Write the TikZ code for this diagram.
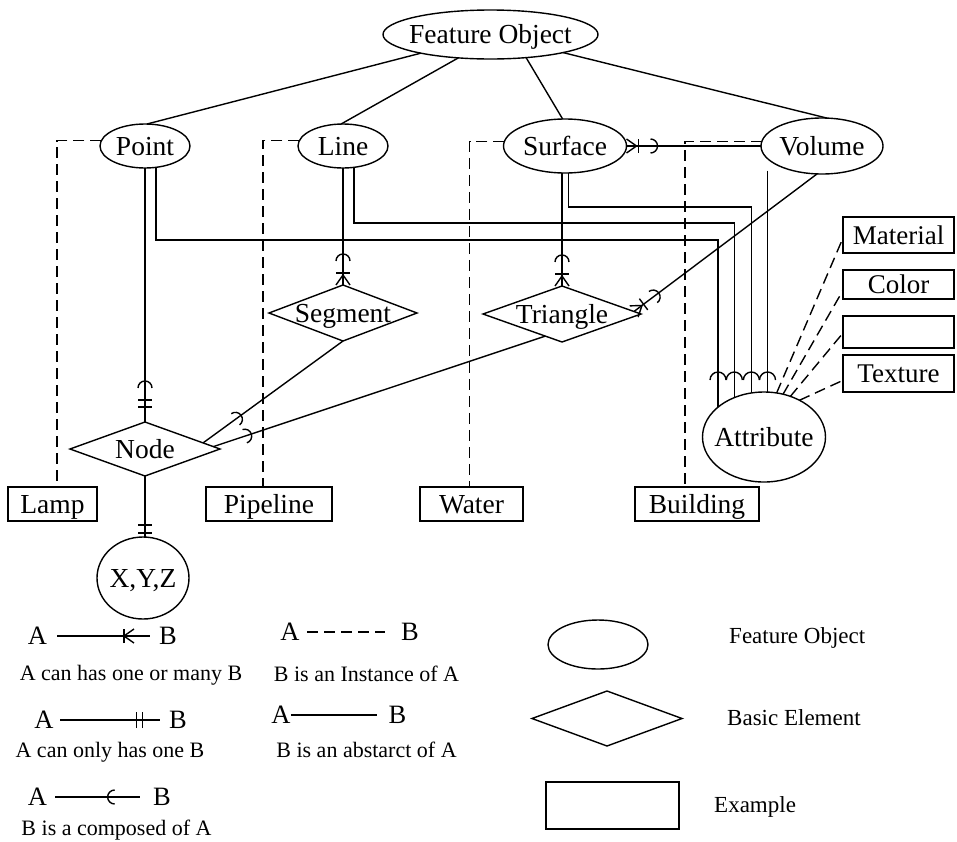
\documentclass[tikz,border=0pt]{standalone}
\usepackage{fontspec}
\setmainfont{Liberation Serif}
\usetikzlibrary{shapes.geometric,decorations.markings}

\newcommand{\mainsize}{\fontsize{27.5}{33}\selectfont}
\newcommand{\lettersize}{\fontsize{26.5}{31}\selectfont}
\newcommand{\notesize}{\fontsize{22}{26}\selectfont}
\newcommand{\keysize}{\fontsize{23}{27}\selectfont}

\tikzset{
  lw/.style={line width=1.4pt},
  conn/.style={lw},
  inst/.style={lw, dash pattern=on 11pt off 6pt},
  shp/.style={draw, lw, inner sep=0pt, outer sep=0pt},
  ent/.style={shp, ellipse},
  elem/.style={shp, diamond},
  box/.style={shp, rectangle, text height=18pt, text depth=0pt},
  every label/.style={inner sep=0pt, text height=18pt, text depth=0pt},
  letter/.style={font=\lettersize, inner ysep=0pt, text height=17.5pt, text depth=0pt},
  note/.style={font=\notesize, inner sep=0pt, text height=14.5pt, text depth=0pt},
  keytxt/.style={font=\keysize, inner sep=0pt, text height=15pt, text depth=0pt, anchor=west},
  % composed-of arc only
  comp/.style={conn, postaction={decorate}, decoration={markings,
      mark=at position -0.01pt with {\draw[lw] (-#1,7pt) arc[start angle=90, end angle=270, radius=7pt];}}},
  % composed of, one or many
  compmany/.style={conn, postaction={decorate}, decoration={markings,
      mark=at position -0.01pt with {
        \draw[lw] (0pt,7pt) -- (-10pt,0pt) -- (0pt,-7pt);
        \draw[lw] (-12pt,-7pt) -- (-12pt,7pt);
        \draw[lw] (-24pt,7pt) arc[start angle=90, end angle=270, radius=7pt];}}},
  % composed of, only one
  compone/.style={conn, postaction={decorate}, decoration={markings,
      mark=at position -0.01pt with {
        \draw[lw] (-15pt,-7pt) -- (-15pt,7pt) (-22pt,-7pt) -- (-22pt,7pt);
        \draw[lw] (-34pt,7pt) arc[start angle=90, end angle=270, radius=7pt];}}},
  % only one
  one/.style={conn, postaction={decorate}, decoration={markings,
      mark=at position -0.01pt with {
        \draw[lw] (-4pt,-7pt) -- (-4pt,7pt) (-12pt,-7pt) -- (-12pt,7pt);}}},
  % key symbols
  keymany/.style={conn, postaction={decorate}, decoration={markings,
      mark=at position -0.01pt with {
        \draw[lw] (-26pt,-7pt) -- (-26pt,7pt);
        \draw[lw] (-16pt,7pt) -- (-26pt,0pt) -- (-16pt,-7pt);}}},
  keyone/.style={conn, postaction={decorate}, decoration={markings,
      mark=at position -0.01pt with {
        \draw[lw] (-23pt,-8pt) -- (-23pt,8pt) (-17pt,-8pt) -- (-17pt,8pt);}}},
  keycomp/.style={conn, postaction={decorate}, decoration={markings,
      mark=at position -0.01pt with {\draw[lw] (-25pt,7pt) arc[start angle=90, end angle=270, radius=7pt];}}},
}

\begin{document}
\begin{tikzpicture}[x=1pt, y=-1pt, font=\mainsize]
\useasboundingbox (0,0) rectangle (957,841);

% feature objects and basic elements
\node[ent, minimum width=215pt, minimum height=49pt, label=center:Feature Object] (fo) at (490.5,34.5) {};
\node[ent, minimum width=90pt, minimum height=44pt, label=center:Point] (pt) at (145,146) {};
\node[ent, minimum width=90pt, minimum height=44pt, label=center:Line] (ln) at (343,146) {};
\node[ent, minimum width=123pt, minimum height=54pt, label=center:Surface] (sf) at (565,146) {};
\node[ent, minimum width=122pt, minimum height=56pt, label=center:Volume] (vol) at (822,146) {};
\node[elem, minimum width=148pt, minimum height=56pt, label=center:Segment] (seg) at (343,313) {};
\node[elem, minimum width=158pt, minimum height=56pt, label=center:Triangle] (tri) at (562,314) {};
\node[elem, minimum width=150pt, minimum height=54pt, label=center:Node] (nd) at (145,449) {};
\node[ent, minimum width=92pt, minimum height=82pt, label={center:{X,Y,Z}}] (xyz) at (143,578) {};
\node[ent, minimum width=123pt, minimum height=90pt, label=center:Attribute] (attr) at (764,437) {};

% examples
\node[box, minimum width=89pt, minimum height=34pt] (lamp) at (52.5,504) {Lamp};
\node[box, minimum width=126pt, minimum height=34pt] (pipe) at (269,504) {Pipeline};
\node[box, minimum width=103pt, minimum height=34pt] (water) at (471.5,504) {Water};
\node[box, minimum width=124pt, minimum height=34pt] (bldg) at (697,504) {Building};

% attribute kinds
\node[box, font=\fontsize{27}{32}\selectfont, minimum width=111pt, minimum height=36pt] (mat) at (898.5,235) {Material};
\node[box, font=\fontsize{27}{32}\selectfont, minimum width=111pt, minimum height=29pt] (col) at (898.5,284.5) {Color};
\node[box, minimum width=111pt, minimum height=32pt] (emp) at (898.5,332) {};
\node[box, font=\fontsize{27}{32}\selectfont, minimum width=111pt, minimum height=37pt] (tex) at (898.5,373.5) {Texture};

% abstraction
\draw[conn] (fo.195) -- (pt.85);
\draw[conn] (fo.216) -- (ln.95);
\draw[conn] (fo.327) -- (sf.95);
\draw[conn] (fo.346) -- (vol.80);

% instances
\draw[inst] (pt.173) -| ([xshift=4.5pt]lamp.north);
\draw[inst] (ln.173) -| ([xshift=-6pt]pipe.north);
\draw[inst] (sf.176) -| ([xshift=-2pt]water.north);
\draw[inst] (vol.176) -| ([xshift=-12pt]bldg.north);

% composition
\draw[compone] (pt.south) -- (nd.north);
\draw[one] (nd.south) -- (nd.south |- xyz.north);
\draw[compmany] (ln.south) -- (seg.north);
\draw[compmany] (sf.south -| tri.north) -- (tri.north);
\draw[compmany] (vol.west) -- (sf.east);
\draw[compmany] (vol.260) -- (tri.2);
\draw[comp=40pt] (seg.south) -- (nd.6);
\draw[comp=33pt] (tri.233) -- (nd.2);

% attribute links
\coordinate (yP) at (0,240);
\coordinate (yL) at (0,223);
\coordinate (yS) at (0,207);
\coordinate (yArc) at (0,380);
\draw[conn] (pt.297) |- (attr.147 |- yP) -- (attr.147);
\draw[conn] (ln.297) |- (attr.127 |- yL) -- (attr.127);
\draw[conn] (sf.278) |- (attr.106 |- yS) -- (attr.106);
\draw[conn, shorten <=12pt] (vol.193) -- (vol.193 |- attr.85);
\foreach \a in {147,127,106}
  \draw[lw] (attr.\a |- yArc) ++(-8pt,0pt) arc[start angle=180, end angle=0, radius=8pt];
\draw[lw] (vol.193 |- yArc) ++(-8pt,0pt) arc[start angle=180, end angle=0, radius=8pt];

\draw[inst] (attr.74) -- (mat.183);
\draw[inst] (attr.66) -- (col.186);
\draw[inst] (attr.57) -- (emp.181);
\draw[inst] (attr.46) -- (tex.187);

% key: connectors
\node[letter, inner xsep=10pt] (a1) at (37.5,636) {A};
\node[letter, inner xsep=9pt] (b1) at (168,636) {B};
\draw[keymany] (a1) -- (b1);
\node[note] (d1) at (131,673) {A can has one or many B};

\node[letter, inner xsep=6.6pt] (a2) at (44,720) {A};
\node[letter, inner xsep=9.3pt] (b2) at (178,720) {B};
\draw[keyone] (a2) -- (b2);
\node[note] (d2) at (110,750) {A can only has one B};

\node[letter, inner xsep=8pt] (a3) at (37.5,797) {A};
\node[letter, inner xsep=13.3pt] (b3) at (162,797) {B};
\draw[keycomp] (a3) -- (b3);
\node[note] (d3) at (116.5,828) {B is a composed of A};

\node[letter, inner xsep=7.6pt] (a4) at (290,632) {A};
\node[letter, inner xsep=16.3pt] (b4) at (410,632) {B};
\draw[inst] (a4) -- (b4);
\node[note] (d4) at (366.5,674) {B is an Instance of A};

\node[letter, inner xsep=0pt] (a5) at (281,715) {A};
\node[letter, inner xsep=11.8pt] (b5) at (397.5,715) {B};
\draw[conn] (a5) -- (b5);
\node[note] (d5) at (366.5,750.5) {B is an abstarct of A};

% key: shapes
\node[ent, minimum width=100pt, minimum height=49pt] (kfo) at (598,644.5) {};
\node[keytxt] (kfot) at (729,635.5) {Feature Object};
\node[elem, minimum width=150pt, minimum height=55pt] (kel) at (607,718.5) {};
\node[keytxt] (kelt) at (727,718) {Basic Element};
\node[box, minimum width=133pt, minimum height=47pt] (kex) at (612.5,805.5) {};
\node[keytxt] (kext) at (714,804.5) {Example};
\end{tikzpicture}
\end{document}
